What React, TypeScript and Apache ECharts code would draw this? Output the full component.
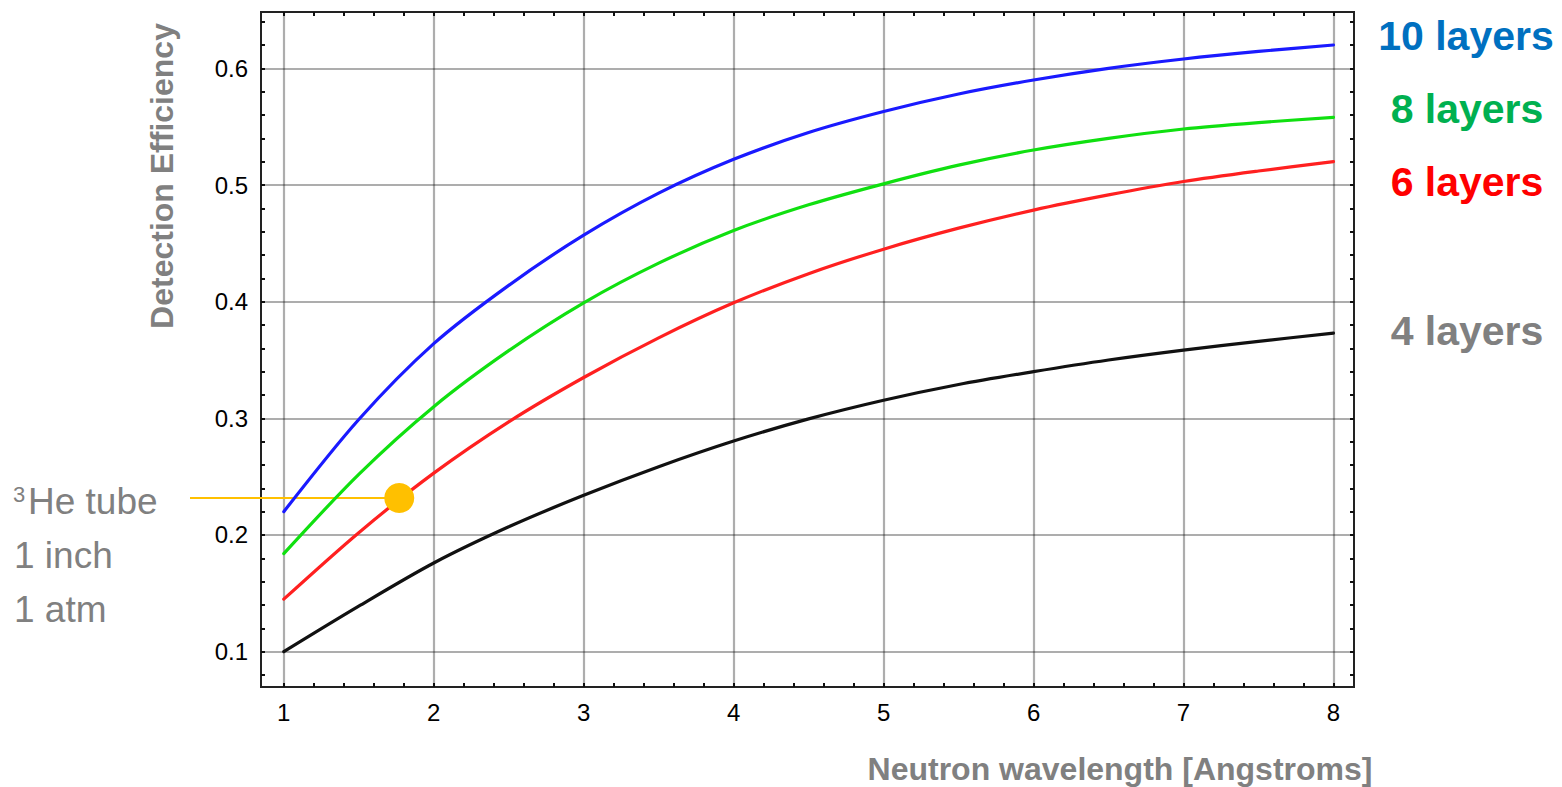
import React, { useEffect, useRef } from 'react';
import * as echarts from 'echarts';

// Neutron wavelength [Å]
const wavelengths = [1, 1.5, 2, 2.5, 3, 3.5, 4, 4.5, 5, 5.5, 6, 6.5, 7, 7.5, 8];
// Detection efficiency per number of layers
const eff10 = [0.220, 0.299, 0.364, 0.414, 0.457, 0.493, 0.522, 0.545, 0.563, 0.578, 0.590, 0.600, 0.608, 0.6145, 0.620];
const eff8 = [0.184, 0.252, 0.310, 0.358, 0.399, 0.433, 0.461, 0.483, 0.501, 0.517, 0.530, 0.540, 0.548, 0.5535, 0.558];
const eff6 = [0.145, 0.202, 0.253, 0.297, 0.335, 0.369, 0.399, 0.424, 0.445, 0.463, 0.4785, 0.4915, 0.503, 0.512, 0.520];
const eff4 = [0.100, 0.139, 0.176, 0.207, 0.234, 0.2585, 0.2805, 0.2995, 0.3155, 0.329, 0.340, 0.350, 0.3585, 0.366, 0.373];
// 3He tube reference point [wavelength, efficiency]
const heTubePoint = [1.77, 0.2317];

const xTickValues = [1, 2, 3, 4, 5, 6, 7, 8];
const yTickValues = [0.1, 0.2, 0.3, 0.4, 0.5, 0.6];

const X_MIN = 0.848;
const X_MAX = 8.137;
const Y_MIN = 0.0697;
const Y_MAX = 0.6483;

function tickRange(start: number, end: number, step: number): number[] {
  const out: number[] = [];
  for (let i = 0; ; i++) {
    const v = +(start + i * step).toFixed(4);
    if (v > end + 1e-9) break;
    out.push(v);
  }
  return out;
}
const xAllTicks = tickRange(1, 8, 0.2);
const yAllTicks = tickRange(0.08, 0.64, 0.02);

const FONT = '"Liberation Sans", Arial, Helvetica, sans-serif';
const GRAY = '#808080';

export default function App() {
  const ref = useRef<HTMLDivElement>(null);

  useEffect(() => {
    document.body.style.margin = '0';
    document.body.style.overflow = 'hidden';
    if (!ref.current) return;
    const chart = echarts.init(ref.current, null, { renderer: 'svg' });

    const mkLine = (name: string, vals: number[], color: string) => ({
      type: 'line',
      name,
      data: wavelengths.map((x, i) => [x, vals[i]]),
      smooth: 0.3,
      symbol: 'none',
      showSymbol: false,
      lineStyle: { color, width: 3.2, cap: 'round' },
      xAxisIndex: 0,
      yAxisIndex: 0,
      z: 3,
      silent: true,
    });

    const tickStyle = { color: '#111', width: 2 };
    const gridLine = { show: true, lineStyle: { color: 'rgba(0,0,0,0.32)', width: 2.2 } };
    const baseX = { type: 'value', min: X_MIN, max: X_MAX, gridIndex: 0 };
    const baseY = { type: 'value', min: Y_MIN, max: Y_MAX, gridIndex: 0 };
    const tickOnly = (vals: number[]) => ({
      axisLine: { show: false },
      axisTick: { show: true, inside: true, length: 4, customValues: vals, lineStyle: tickStyle },
      axisLabel: { show: false },
      splitLine: { show: false },
    });

    const option: any = {
      animation: false,
      backgroundColor: '#ffffff',
      grid: {
        left: 261,
        right: 1562 - 1354,
        top: 12,
        bottom: 787 - 687,
        show: true,
        borderColor: '#222',
        borderWidth: 2,
        backgroundColor: 'transparent',
        containLabel: false,
        outerBoundsMode: 'none',
      },
      xAxis: [
        {
          ...baseX,
          position: 'bottom',
          axisLine: { show: false },
          axisTick: { show: false, customValues: xTickValues },
          axisLabel: {
            customValues: xTickValues,
            color: '#000',
            fontSize: 24,
            fontFamily: FONT,
            margin: 13,
            formatter: (v: number) => String(Math.round(v)),
          },
          splitLine: gridLine,
        },
        { ...baseX, position: 'bottom', ...tickOnly(xAllTicks) },
        { ...baseX, position: 'top', ...tickOnly(xAllTicks) },
      ],
      yAxis: [
        {
          ...baseY,
          position: 'left',
          axisLine: { show: false },
          axisTick: { show: false, customValues: yTickValues },
          axisLabel: {
            customValues: yTickValues,
            color: '#000',
            fontSize: 24,
            fontFamily: FONT,
            margin: 13,
            formatter: (v: number) => v.toFixed(1),
          },
          splitLine: gridLine,
        },
        { ...baseY, position: 'left', ...tickOnly(yAllTicks) },
        { ...baseY, position: 'right', ...tickOnly(yAllTicks) },
      ],
      series: [
        mkLine('4 layers', eff4, '#111111'),
        mkLine('6 layers', eff6, '#ff2020'),
        mkLine('8 layers', eff8, '#10e010'),
        mkLine('10 layers', eff10, '#1a1aff'),
        {
          type: 'scatter',
          name: '3He tube',
          data: [heTubePoint],
          symbol: 'circle',
          symbolSize: 30,
          itemStyle: { color: '#FFC000', opacity: 1 },
          xAxisIndex: 0,
          yAxisIndex: 0,
          z: 5,
          silent: true,
        },
      ],
    };
    chart.setOption(option);

    const p = chart.convertToPixel({ xAxisIndex: 0, yAxisIndex: 0 }, heTubePoint) as number[];
    const txt = (text: string, x: number, y: number, size: number, color: string, bold: boolean, align = 'left', rotation = 0) => ({
      type: 'text',
      x,
      y,
      rotation,
      style: {
        text,
        fill: color,
        fontSize: size,
        fontWeight: bold ? 'bold' : 'normal',
        fontFamily: FONT,
        align,
        verticalAlign: 'middle',
      },
      silent: true,
    });

    chart.setOption({
      graphic: [
        {
          type: 'line',
          shape: { x1: 190, y1: p[1], x2: p[0], y2: p[1] },
          style: { stroke: '#FFC000', lineWidth: 2 },
          z: 1,
          silent: true,
        },
        txt('Detection Efficiency', 162, 176, 32, GRAY, true, 'center', Math.PI / 2),
        txt('Neutron wavelength [Angstroms]', 1120, 769, 32, GRAY, true, 'center'),
        txt('10 layers', 1466, 36, 41, '#0070C0', true, 'center'),
        txt('8 layers', 1467, 109, 41, '#00B050', true, 'center'),
        txt('6 layers', 1467, 182, 41, '#FF0000', true, 'center'),
        txt('4 layers', 1467, 331, 41, GRAY, true, 'center'),
        txt('3', 13, 494, 22, GRAY, false, 'left'),
        txt('He tube', 28, 501.5, 37, GRAY, false, 'left'),
        txt('1 inch', 14, 555.5, 37, GRAY, false, 'left'),
        txt('1 atm', 14, 609, 37, GRAY, false, 'left'),
      ],
    });

    return () => {
      chart.dispose();
    };
  }, []);

  return <div ref={ref} style={{ width: 1562, height: 787 }} />;
}
